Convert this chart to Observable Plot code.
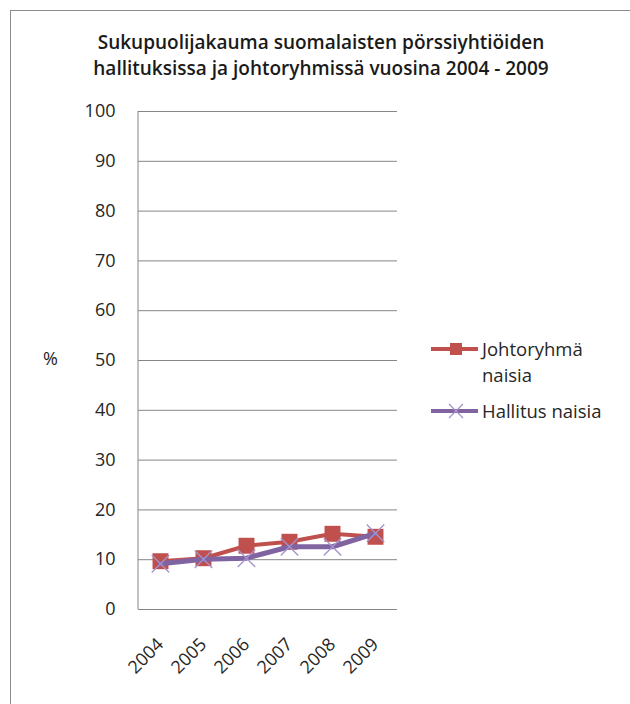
<!DOCTYPE html>
<html>
<head>
<meta charset="utf-8">
<script src="https://cdn.jsdelivr.net/npm/d3@7"></script>
<script src="https://cdn.jsdelivr.net/npm/@observablehq/plot@0.6"></script>
<style>
  body { margin: 0; background: #fff; font-family: "Open Sans", sans-serif; }
  #wrap { position: relative; width: 630px; height: 704px; overflow: hidden; }
  #frame { position: absolute; left: 10px; top: 10px; width: 700px; height: 800px; border: 1.5px solid #8c8c8c; box-sizing: border-box; }
  #title { position: relative; height: 90px; text-align: center; font-weight: 600; font-size: 19px; line-height: 26px; color: #1a1a1a; padding-top: 29px; box-sizing: border-box; padding-left: 12px; }
  #chart { position: relative; }
  #legend { position: absolute; left: 430px; top: 336px; font-size: 18.5px; color: #262626; line-height: 26px; }
  .item { position: relative; padding-left: 52px; }
  .item svg { position: absolute; left: 0; top: 0; }
  .pct { position: absolute; left: 43px; top: 346px; font-size: 18px; color: #262626; }
</style>
</head>
<body>
<div id="wrap">
  <div id="frame"></div>
  <div id="title">Sukupuolijakauma suomalaisten pörssiyhtiöiden<br>hallituksissa ja johtoryhmissä vuosina 2004 - 2009</div>
  <div id="chart"></div>
  <div class="pct">%</div>
  <div id="legend">
    <div class="item" style="width:150px"><svg width="50" height="26"><line x1="1" x2="48" y1="13" y2="13" stroke="#C0504D" stroke-width="4"/><rect x="20" y="7" width="12" height="12" fill="#C0504D"/></svg>Johtoryhmä<br>naisia</div>
    <div class="item" style="margin-top:10px; width:170px"><svg width="50" height="26"><line x1="1" x2="48" y1="13" y2="13" stroke="#8064A2" stroke-width="4"/><path d="M19,6L33,20M33,6L19,20" stroke="#A692CC" stroke-width="1.3"/></svg>Hallitus naisia</div>
  </div>
</div>
<script>
const years = ["2004", "2005", "2006", "2007", "2008", "2009"];
const johtoryhma = [9.7, 10.3, 12.8, 13.6, 15.2, 14.6];
const hallitus = [9.2, 10.1, 10.3, 12.6, 12.6, 15.3];
const yTicks = [0, 10, 20, 30, 40, 50, 60, 70, 80, 90, 100];

const dataJ = years.map((y, i) => ({year: y, value: johtoryhma[i]}));
const dataH = years.map((y, i) => ({year: y, value: hallitus[i]}));

function leftAxisLine(index, scales, values, dimensions) {
  const {marginLeft, marginTop, height, marginBottom} = dimensions;
  const g = d3.create("svg:line")
    .attr("x1", marginLeft).attr("x2", marginLeft)
    .attr("y1", marginTop).attr("y2", height - marginBottom)
    .attr("stroke", "#868686").attr("stroke-width", 1);
  return g.node();
}

const chart = Plot.plot({
  width: 630,
  height: 614,
  marginTop: 21,
  marginBottom: 95,
  marginLeft: 138,
  marginRight: 233,
  style: {fontFamily: "Open Sans, sans-serif", fontSize: "18px", color: "#262626", background: "transparent", overflow: "visible"},
  x: {type: "point", domain: years, padding: 0.5, label: null},
  y: {domain: [0, 100], ticks: yTicks, label: null},
  marks: [
    Plot.gridY(yTicks, {stroke: "#868686", strokeOpacity: 1, strokeWidth: 1}),
    leftAxisLine,
    Plot.axisY(yTicks, {tickSize: 0, tickPadding: 23, fontSize: 18, fill: "#262626"}),
    Plot.axisX(years, {tickSize: 0, tickRotate: -45, tickPadding: 32, fontSize: 18, fill: "#262626", textAnchor: "end"}),
    Plot.ruleY([0], {stroke: "#868686", strokeWidth: 1}),
    Plot.line(dataJ, {x: "year", y: "value", stroke: "#C0504D", strokeWidth: 4}),
    Plot.dot(dataJ, {x: "year", y: "value", symbol: "square", r: 9, fill: "#C0504D", stroke: "none"}),
    Plot.line(dataH, {x: "year", y: "value", stroke: "#8064A2", strokeWidth: 5}),
    Plot.dot(dataH, {x: "year", y: "value", symbol: "times", r: 8, stroke: "#A692CC", strokeWidth: 1.3, fill: "none"})
  ]
});
document.getElementById("chart").appendChild(chart);
</script>
</body>
</html>
